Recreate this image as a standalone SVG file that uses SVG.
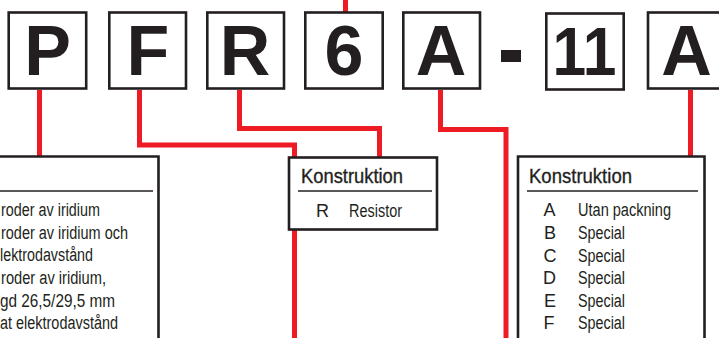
<svg xmlns="http://www.w3.org/2000/svg" width="719" height="338" viewBox="0 0 719 338">
<style>
.code{fill:#fff;stroke:#231f20;stroke-width:2.6}
.big{font-family:"Liberation Sans",Arial,sans-serif;font-weight:bold;font-size:70px;fill:#231f20;text-anchor:middle}
.panel{fill:#fff;stroke:#231f20;stroke-width:2.6}
.rule{stroke:#231f20;stroke-width:1.6;fill:none}
.wire{fill:none;stroke:#ed1c24;stroke-width:5;stroke-linejoin:miter;stroke-linecap:butt}
.ttl{font-family:"Liberation Sans Narrow","Liberation Sans",Arial,sans-serif;font-size:20px;fill:#231f20;stroke:#231f20;stroke-width:0.35}
.txt{font-family:"Liberation Sans Narrow","Liberation Sans",Arial,sans-serif;font-size:18px;fill:#231f20}
.mid{text-anchor:middle}
</style>
<g id="connectors">
<path class="wire" d="M39.5 90 V157"/>
<path class="wire" d="M139.5 90 V145 H294.5 V158"/>
<path class="wire" d="M294.5 229 V338"/>
<path class="wire" d="M239.5 90 V128.5 H379.5 V158"/>
<path class="wire" d="M345.5 0 V13"/>
<path class="wire" d="M440.5 90 V129.5 H506 V338"/>
<path class="wire" d="M690.5 90 V157"/>
</g>
<g id="code-P"><rect class="code" x="8.7" y="12.5" width="77.5" height="76"/><text class="big" x="47.5" y="75">P</text></g>
<g id="code-F"><rect class="code" x="109.3" y="12.5" width="76.7" height="76"/><text class="big" x="148" y="75">F</text></g>
<g id="code-R"><rect class="code" x="207.3" y="12.5" width="76.7" height="76"/><text class="big" x="245" y="75">R</text></g>
<g id="code-6"><rect class="code" x="305.3" y="12.5" width="77.4" height="76"/><text class="big" x="344" y="75">6</text></g>
<g id="code-A"><rect class="code" x="403.3" y="12.5" width="76.7" height="76"/><text class="big" x="441" y="75">A</text></g>
<g id="dash"><rect x="501" y="50" width="20" height="12" fill="#231f20"/></g>
<g id="code-11"><rect class="code" x="546.3" y="13.5" width="77.4" height="76"/><text class="big" x="584.5" y="75" style="font-size:68px" textLength="64" lengthAdjust="spacingAndGlyphs">11</text></g>
<g id="code-A2"><rect class="code" x="648" y="12.5" width="77.4" height="76"/><text class="big" x="686.5" y="75">A</text></g>
<g id="panel-left">
<path class="panel" d="M-5 156.5 H158.5 V345 H-5 Z"/>
<line class="rule" x1="-2" y1="191" x2="153" y2="191"/>
<text class="txt" x="1" y="216" textLength="99" lengthAdjust="spacingAndGlyphs">roder av iridium</text>
<text class="txt" x="1" y="239" textLength="127" lengthAdjust="spacingAndGlyphs">roder av iridium och</text>
<text class="txt" x="0" y="261" textLength="93" lengthAdjust="spacingAndGlyphs">lektrodavstånd</text>
<text class="txt" x="1" y="284" textLength="105" lengthAdjust="spacingAndGlyphs">roder av iridium,</text>
<text class="txt" x="0" y="307" textLength="115" lengthAdjust="spacingAndGlyphs">gd 26,5/29,5 mm</text>
<text class="txt" x="0" y="329" textLength="118" lengthAdjust="spacingAndGlyphs">at elektrodavstånd</text>
</g>
<g id="panel-mid">
<rect class="panel" x="289" y="157.5" width="148" height="72"/>
<line class="rule" x1="298" y1="191" x2="432" y2="191"/>
<text class="ttl" x="301" y="183" textLength="102" lengthAdjust="spacingAndGlyphs">Konstruktion</text>
<text class="txt" x="316" y="217">R</text>
<text class="txt" x="349" y="217" textLength="53" lengthAdjust="spacingAndGlyphs">Resistor</text>
</g>
<g id="panel-right">
<path class="panel" d="M518 345 V156.5 H704.5 V345 Z"/>
<line class="rule" x1="527" y1="191" x2="698" y2="191"/>
<text class="ttl" x="529" y="182.5" textLength="103" lengthAdjust="spacingAndGlyphs">Konstruktion</text>
<text class="txt mid" x="549.5" y="216">A</text>
<text class="txt" x="578" y="216" textLength="93" lengthAdjust="spacingAndGlyphs">Utan packning</text>
<text class="txt mid" x="550" y="239">B</text>
<text class="txt" x="578" y="239" textLength="47" lengthAdjust="spacingAndGlyphs">Special</text>
<text class="txt mid" x="550" y="261.5">C</text>
<text class="txt" x="578" y="261.5" textLength="47" lengthAdjust="spacingAndGlyphs">Special</text>
<text class="txt mid" x="549.5" y="284">D</text>
<text class="txt" x="578" y="284" textLength="47" lengthAdjust="spacingAndGlyphs">Special</text>
<text class="txt mid" x="550" y="306.5">E</text>
<text class="txt" x="578" y="306.5" textLength="47" lengthAdjust="spacingAndGlyphs">Special</text>
<text class="txt mid" x="549" y="329">F</text>
<text class="txt" x="578" y="329" textLength="47" lengthAdjust="spacingAndGlyphs">Special</text>
</g>
</svg>
